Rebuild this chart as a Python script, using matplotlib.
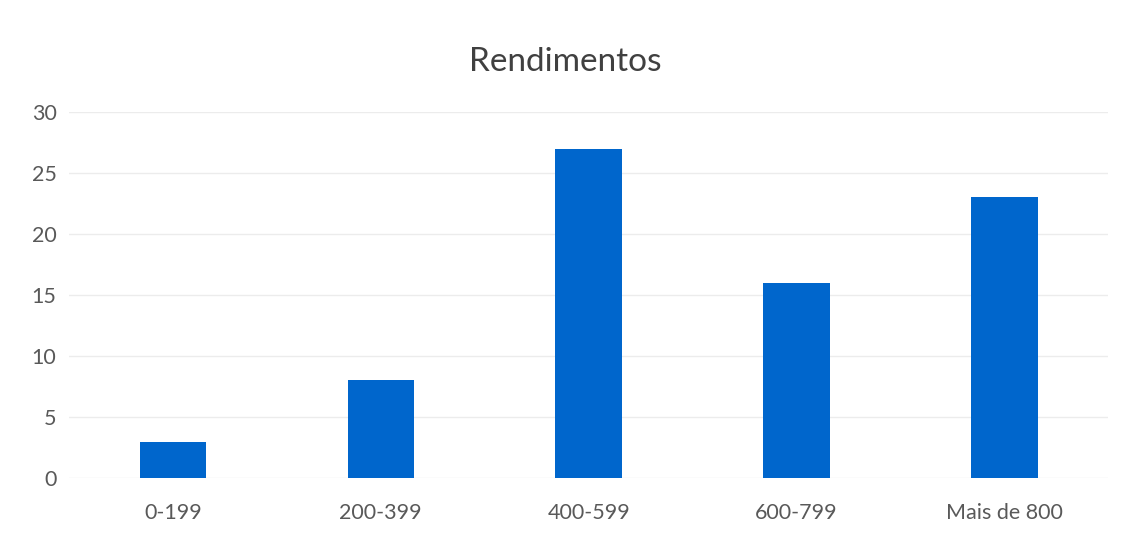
import matplotlib
matplotlib.use("agg")
from matplotlib import pyplot
import numpy

categories = ["0-199", "200-399", "400-599", "600-799", "Mais de 800"]
values = [3, 8, 27, 16, 23]
yticks = [0, 5, 10, 15, 20, 25, 30]

pyplot.rcParams["font.family"] = ["Lato", "DejaVu Sans"]

fig = pyplot.figure(figsize=(11.31, 5.36), dpi=100)
ax = fig.add_axes([0.061, 0.108, 0.919, 0.683])

x = numpy.arange(len(categories))
ax.bar(x, values, width=0.32, color="#0066cc", zorder=3)

ax.set_xlim(-0.5, len(categories) - 0.5)
ax.set_ylim(0, 30)
ax.set_yticks(yticks)
ax.set_xticks(x)
ax.set_xticklabels(categories)
ax.grid(axis="y", color="#ececec", lw=1, zorder=0)
for s in ax.spines.values():
    s.set_visible(False)
ax.tick_params(axis="both", length=0, labelsize=15.5, colors="#595959")
ax.tick_params(axis="x", pad=18)
ax.tick_params(axis="y", pad=9)

fig.text(0.5, 0.884, "Rendimentos", ha="center", va="center",
         fontsize=24, color="#404040")

fig.savefig("out.png", dpi=100)
